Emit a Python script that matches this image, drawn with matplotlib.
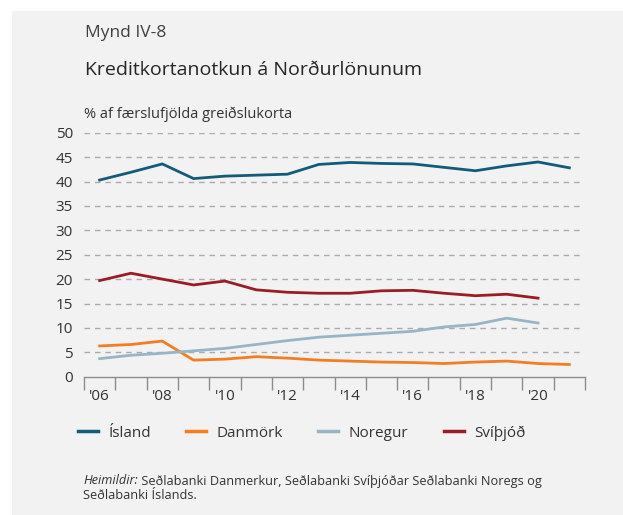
import numpy as np
import matplotlib
matplotlib.use("Agg")
import matplotlib.pyplot as plt
from matplotlib.patches import Rectangle

plt.rcParams.update({
    "font.family": ["Open Sans", "DejaVu Sans"],
    "text.color": "#333333",
    "axes.labelcolor": "#333333",
    "xtick.color": "#333333",
    "ytick.color": "#333333",
})

# ---------------------------------------------------------------------------
# data (% of card transactions)
# ---------------------------------------------------------------------------
years = list(range(2006, 2022))
year_labels = ["'06", "", "'08", "", "'10", "", "'12", "", "'14", "", "'16", "",
               "'18", "", "'20", ""]

island = [40.3, 41.9, 43.6, 40.6, 41.1, 41.3, 41.5, 43.5, 43.9, 43.7, 43.6,
          42.9, 42.2, 43.2, 44.0, 42.8]
danmork = [6.3, 6.6, 7.3, 3.4, 3.6, 4.1, 3.8, 3.4, 3.2, 3.0, 2.9, 2.7, 3.0,
           3.2, 2.7, 2.5]
noregur = [3.7, 4.4, 4.8, 5.3, 5.8, 6.6, 7.4, 8.1, 8.5, 8.9, 9.3, 10.2, 10.7,
           12.0, 11.0]
svithjod = [19.7, 21.2, 20.0, 18.8, 19.6, 17.8, 17.3, 17.1, 17.1, 17.6, 17.7,
            17.1, 16.6, 16.9, 16.1]

series = [
    ("Ísland", island, "#135b78"),
    ("Danmörk", danmork, "#f47d22"),
    ("Noregur", noregur, "#98b5c6"),
    ("Svíþjóð", svithjod, "#9a1c24"),
]

W, H = 623, 515
fig = plt.figure(figsize=(W / 100, H / 100), dpi=100)
fig.patch.set_facecolor("white")
fig.patches.append(Rectangle((12 / W, 0), 1 - 12 / W, 1 - 11 / H,
                             transform=fig.transFigure, facecolor="#f2f2f2",
                             edgecolor="none", zorder=-10))

ax = fig.add_axes([84 / W, 138.3 / H, 501 / W, 244 / H])
ax.set_facecolor("none")

x = np.arange(len(years))
for name, vals, col in series:
    ax.plot(x[:len(vals)], vals, color=col, lw=2.0, label=name,
            solid_joinstyle="round", clip_on=False, zorder=3)

ax.set_xlim(-0.5, len(years) - 0.5)
ax.set_ylim(0, 50)
ax.set_yticks(np.arange(0, 51, 5))
for y in np.arange(5, 51, 5):
    ax.axhline(y, xmax=497 / 501, color="#ababab", lw=1.0,
               dashes=(4, 3.5), zorder=1)

ax.set_xticks(x)
ax.set_xticklabels(year_labels)
ax.set_xticks(np.arange(-0.5, len(years)), minor=True)
ax.tick_params(axis="x", which="major", length=0, pad=9, labelsize=11)
ax.tick_params(axis="x", which="minor", length=9, width=1, color="#8c8c8c",
               direction="out")
ax.tick_params(axis="y", length=0, pad=8, labelsize=11)

for s in ["top", "right", "left"]:
    ax.spines[s].set_visible(False)
ax.spines["bottom"].set_color("#8c8c8c")
ax.spines["bottom"].set_linewidth(1.0)

# titles
fig.text(85 / W, 1 - 33 / H, "Mynd IV-8", fontsize=12.5, va="center",
         ha="left", color="#404040")
fig.text(85 / W, 1 - 70 / H, "Kreditkortanotkun á Norðurlönunum",
         fontsize=14, va="center", ha="left", color="#262626")
fig.text(84 / W, 1 - 114 / H, "% af færslufjölda greiðslukorta",
         fontsize=10.5, va="center", ha="left", color="#333333")

# legend
leg = fig.legend(loc="center left", bbox_to_anchor=(78 / W, 1 - 433 / H),
                 ncol=4, frameon=False, fontsize=11, handlelength=1.3,
                 handletextpad=0.7, columnspacing=2.3, borderaxespad=0,
                 borderpad=0)
for h in leg.get_lines():
    h.set_linewidth(2.5)

# source note, italic lead-in
t1 = fig.text(83 / W, 1 - 481 / H, "Heimildir:", fontsize=9.2,
              style="italic", va="center", ha="left", color="#333333")
fig.canvas.draw()
bb = t1.get_window_extent()
fig.text(bb.x1 / W, 1 - 481 / H,
         " Seðlabanki Danmerkur, Seðlabanki Svíþjóðar Seðlabanki Noregs og",
         fontsize=9.2, va="center", ha="left", color="#333333")
fig.text(83 / W, 1 - 495.5 / H, "Seðlabanki Íslands.", fontsize=9.2,
         va="center", ha="left", color="#333333")

fig.savefig("out.png", dpi=100, facecolor=fig.get_facecolor())
